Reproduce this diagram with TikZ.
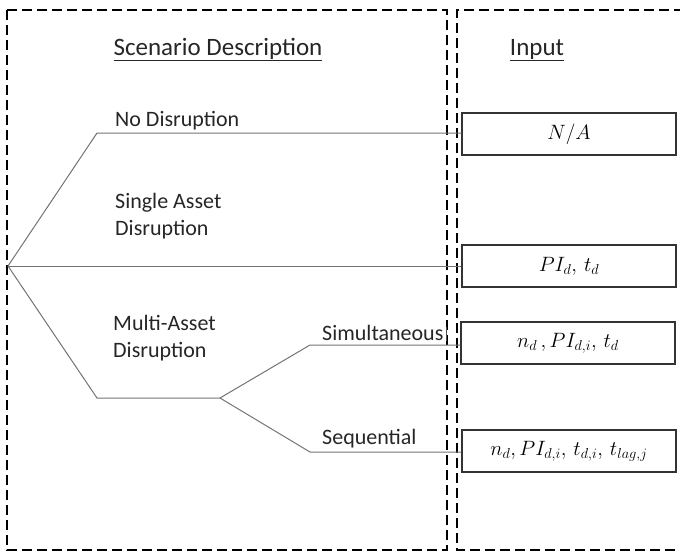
\documentclass[tikz,border=0pt]{standalone}
\usepackage{fontspec}
\setmainfont{Carlito}
\begin{document}
\begin{tikzpicture}[x=1pt,y=-1pt,
  frame/.style={line width=2pt,dash pattern=on 10pt off 5pt,black},
  branch/.style={line width=1pt,draw=black!55},
  inbox/.style={draw=black!80,line width=1.3pt,minimum width=214pt,minimum height=42pt,inner sep=0pt,font=\fontsize{20}{24}\selectfont},
  lbl/.style={anchor=base west,font=\fontsize{22}{26.5}\selectfont,text=black!85,inner sep=0pt,align=left},
  head/.style={anchor=base,font=\fontsize{25}{30}\selectfont,text=black!85,inner sep=0pt}]
\useasboundingbox (0,0) rectangle (680,555);
% dashed frames
\draw[frame] (7,10) rectangle (447,550);
\draw[frame] (684,10) -- (457,10) -- (457,550) -- (684,550);
% headings
\node[head] (sd) at (218,55) {\underline{Scenario Description}};
\node[head] (ip) at (537,55) {\underline{Input}};
% input boxes
\node[inbox] (b1) at (569,134) {$N/A$};
\node[inbox] (b2) at (569,266) {$PI_d,\,t_d$};
\node[inbox] (b3) at (568,343) {$n_d\,,PI_{d,i},\,t_d$};
\node[inbox] (b4) at (569,451) {$n_d,PI_{d,i},\,t_{d,i},\,t_{lag,j}$};
% tree points
\coordinate (root) at (8,266);
\coordinate (nd) at (97,133);
\coordinate (md) at (97,398);
\coordinate (mm) at (220,398);
\coordinate (si) at (310,345);
\coordinate (se) at (310,452);
\draw[branch] (root) -- (nd) -- (nd -| b1.west);
\draw[branch] (root) -- (root -| b2.west);
\draw[branch] (root) -- (md) -- (mm);
\draw[branch] (mm) -- (si) -- (si -| b3.west);
\draw[branch] (mm) -- (se) -- (se -| b4.west);
% labels
\node[lbl] (l1) at (115,126) {No Disruption};
\node[lbl] (l2) at (115,235) {Single Asset\\Disruption};
\node[lbl] (l3) at (113,357) {Multi-Asset\\Disruption};
\node[lbl] (l4) at (322,340) {Simultaneous};
\node[lbl] (l5) at (322,444) {Sequential};
\draw[line width=1pt,black!70] (446,327) -- (446,341);
\end{tikzpicture}
\end{document}
